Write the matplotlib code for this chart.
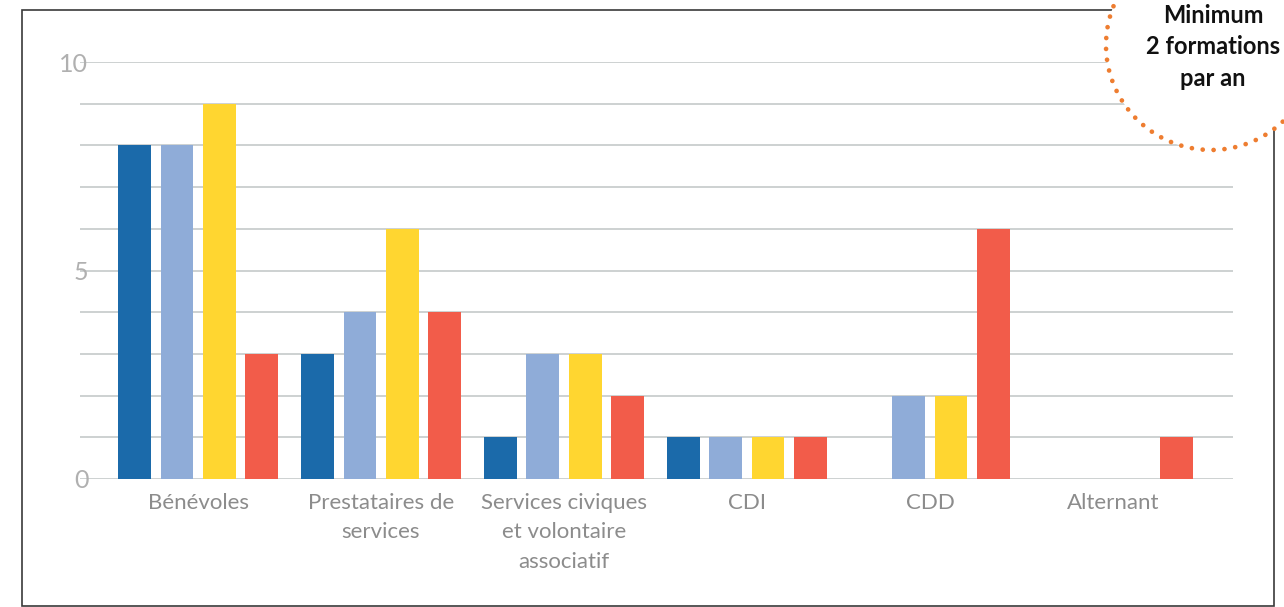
import numpy as np
import matplotlib
matplotlib.use("Agg")
import matplotlib.pyplot as plt
from matplotlib.patches import Circle, Rectangle

categories = ["Bénévoles", "Prestataires de\nservices",
              "Services civiques\net volontaire\nassociatif", "CDI", "CDD", "Alternant"]
serie_1 = [8, 3, 1, 1, 0, 0]
serie_2 = [8, 4, 3, 1, 2, 0]
serie_3 = [9, 6, 3, 1, 2, 0]
serie_4 = [3, 4, 2, 1, 6, 1]
series = [serie_1, serie_2, serie_3, serie_4]
colors = ["#1B6AAA", "#8FACD8", "#FFD630", "#F25C4A"]
badge_text = "Minimum\n2 formations\npar an"

W, H = 1284, 607
fig = plt.figure(figsize=(W / 100, H / 100), dpi=100)
fig.patch.set_facecolor("white")

# main bar axes, placed in pixel terms
x0, x1, y0, y1 = 80, 1233, 479, 62
ax = fig.add_axes([x0 / W, 1 - y0 / H, (x1 - x0) / W, (y0 - y1) / H])

x = np.arange(len(categories))
width = 0.18
step = 0.23
for i, (vals, col) in enumerate(zip(series, colors)):
    ax.bar(x + (i - 1.5) * step, vals, width, color=col, zorder=2)

ax.set_xlim(-0.645, 5.656)
ax.set_ylim(0, 10)
ax.set_yticks(np.arange(0, 11, 1))
ax.set_yticklabels(["0", "", "", "", "", "5", "", "", "", "", "10"])
ax.grid(axis="y", color="#C5CACA", lw=1.2, zorder=0)
for s in ax.spines.values():
    s.set_visible(False)
ax.tick_params(axis="y", length=0, pad=-6, labelsize=18, labelcolor="#B0B0B0")
ax.tick_params(axis="x", length=0, pad=10, labelsize=16, labelcolor="#8C8C8C")
ax.set_xticks(x)
ax.set_xticklabels(categories, linespacing=1.6)
for lab in ax.get_xticklabels() + ax.get_yticklabels():
    lab.set_fontfamily("Lato")

# overlay in pixel coordinates for frame and badge
ov = fig.add_axes([0, 0, 1, 1], facecolor="none")
ov.set_xlim(0, W)
ov.set_ylim(H, 0)
ov.axis("off")
ov.add_patch(Rectangle((22, 10), 1251.5, 595.5, fill=False, ec="#3A3A3A", lw=1.2, zorder=1))
ov.add_patch(Circle((1211, 45), 105, fc="white", ec="none", zorder=2))
ov.add_patch(Circle((1211, 45), 105, fill=False, ec="#EE7D30", lw=3.4,
                    ls=(0, (0.01, 2.3)), capstyle="round", zorder=3))
ov.text(1213, 47, badge_text, ha="center", va="center", fontsize=17,
        fontweight="bold", family="Lato", color="#111111", linespacing=1.45, zorder=4)

fig.savefig("out.png", dpi=100)
